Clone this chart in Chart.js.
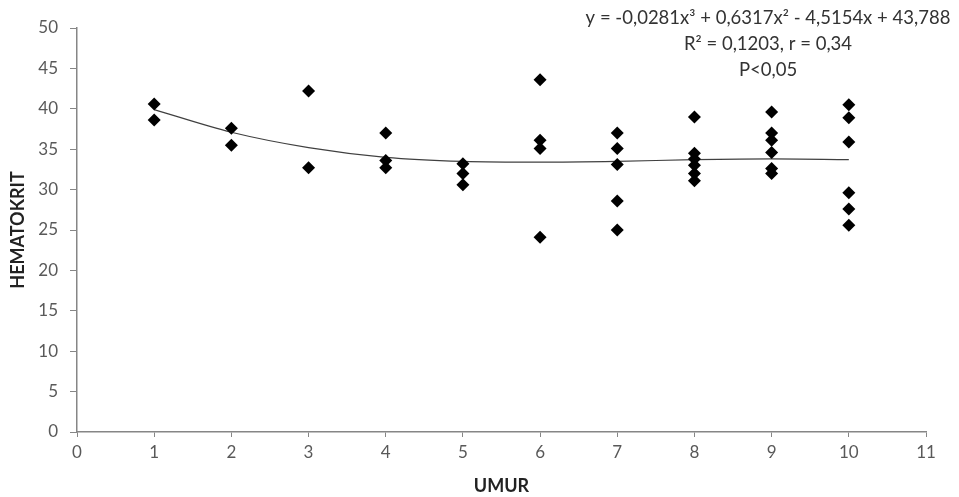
<!DOCTYPE html>
<html>
<head>
<meta charset="utf-8">
<script src="https://cdn.jsdelivr.net/npm/chart.js@4.4.0/dist/chart.umd.min.js"></script>
<style>
  html, body { margin: 0; padding: 0; background: #fff; }
</style>
</head>
<body>
<canvas id="scatter" width="959" height="497"></canvas>
<script>
// umur (x) dan hematokrit (y) tiap titik
var umur = [1, 1, 2, 2, 3, 3, 4, 4, 4, 5, 5, 5,
            6, 6, 6, 6, 7, 7, 7, 7, 7,
            8, 8, 8, 8, 8, 8, 9, 9, 9, 9, 9, 9,
            10, 10, 10, 10, 10, 10];
var hematokrit = [40.6, 38.6, 37.6, 35.5, 42.2, 32.7, 37.0, 33.6, 32.7, 33.2, 32.0, 30.6,
                  43.6, 36.1, 35.1, 24.1, 37.0, 35.1, 33.1, 28.6, 25.0,
                  39.0, 34.5, 33.8, 33.0, 32.0, 31.1, 39.6, 37.0, 36.1, 34.6, 32.6, 32.0,
                  40.5, 38.9, 35.9, 29.6, 27.6, 25.6];

// garis tren polinomial
var trenX = [1, 2, 3, 4, 5, 6, 7, 8, 9, 10];
var trenY = [39.9, 37.1, 35.2, 34.0, 33.5, 33.4, 33.5, 33.7, 33.8, 33.7];

var anotasi = ["y = -0,0281x\u00B3 + 0,6317x\u00B2 - 4,5154x + 43,788",
               "R\u00B2 = 0,1203, r = 0,34",
               "P<0,05"];

var fontName = "Lato, 'Liberation Sans', sans-serif";
var grey = '#595959';

function toPoints(xs, ys) {
    var out = [];
    for (var i = 0; i < xs.length; i++) out.push({x: xs[i], y: ys[i]});
    return out;
}

// tulis persamaan di kanan atas
var eqPlugin = {
    id: 'eqText',
    afterDraw: function (chart) {
        var ctx = chart.ctx;
        ctx.save();
        ctx.fillStyle = '#333';
        ctx.font = '18.5px ' + fontName;
        ctx.textAlign = 'center';
        ctx.textBaseline = 'middle';
        var cx = 768;
        var ys = [18, 44, 70];
        for (var i = 0; i < anotasi.length; i++) ctx.fillText(anotasi[i], cx, ys[i]);
        ctx.restore();
    }
};

var ctx = document.getElementById('scatter').getContext('2d');
var chart = new Chart(ctx, {
    type: 'scatter',
    data: {
        datasets: [{
            label: 'Hematokrit',
            data: toPoints(umur, hematokrit),
            pointStyle: 'rectRot',
            pointRadius: 6.5,
            pointHoverRadius: 6.5,
            backgroundColor: '#000',
            borderColor: '#000',
            borderWidth: 0
        }, {
            label: 'Tren',
            type: 'line',
            data: toPoints(trenX, trenY),
            borderColor: '#404040',
            borderWidth: 1.2,
            pointRadius: 0,
            fill: false,
            cubicInterpolationMode: 'monotone'
        }]
    },
    options: {
        responsive: false,
        animation: false,
        layout: { padding: { left: 0, top: 28, right: 33, bottom: 0 } },
        plugins: { legend: { display: false }, tooltip: { enabled: false } },
        scales: {
            x: {
                type: 'linear',
                min: 0, max: 11,
                afterFit: function (s) { s.height = 65; },
                ticks: { stepSize: 1, color: grey, padding: 5, maxRotation: 0, autoSkip: false,
                         font: { family: fontName, size: 17 } },
                grid: { drawOnChartArea: false, color: '#868686', tickLength: 5 },
                border: { color: '#868686', width: 1.5 },
                title: { display: true, text: 'UMUR', color: '#222', padding: { top: 2, bottom: 0 },
                         font: { family: fontName, size: 18, weight: 'bold' } }
            },
            y: {
                min: 0, max: 50,
                afterFit: function (s) { s.width = 77; },
                ticks: { stepSize: 5, color: grey, padding: 12, autoSkip: false,
                         font: { family: fontName, size: 17 } },
                grid: { drawOnChartArea: false, color: '#868686', tickLength: 7 },
                border: { color: '#868686', width: 1.5 },
                title: { display: true, text: 'HEMATOKRIT', color: '#222', padding: { top: 7, bottom: 0 },
                         font: { family: fontName, size: 18, weight: 'bold' } }
            }
        }
    },
    plugins: [eqPlugin]
});
</script>
</body>
</html>
